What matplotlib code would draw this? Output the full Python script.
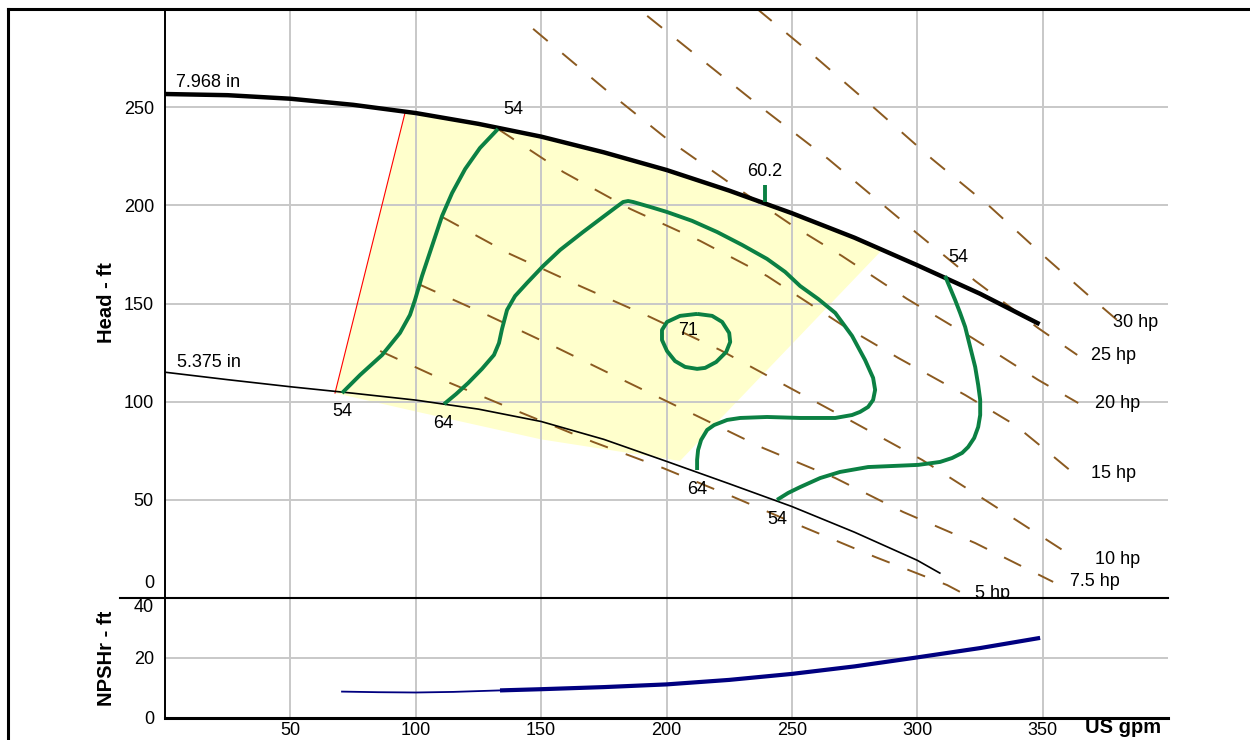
import matplotlib
matplotlib.use("Agg")
import matplotlib.pyplot as plt
from matplotlib.lines import Line2D

plt.rcParams['font.family'] = ['Liberation Sans', 'DejaVu Sans']
plt.rcParams['lines.scale_dashes'] = False

# impeller curves (US gpm, ft)
q_max = [0, 25, 50, 75, 100, 125, 150, 175, 200, 225, 250, 275, 300, 325, 348]
h_max = [256.7, 256.1, 254.3, 251.2, 247, 241.5, 235, 227, 218, 207.5, 196, 183.5, 169.5, 155, 140]
q_min = [0, 25, 50, 75, 100, 125, 150, 175, 200, 225, 250, 275, 300, 309]
h_min = [115, 111.2, 107.6, 104.3, 100.8, 96.2, 89.9, 80.8, 69.6, 58.2, 46.6, 33.5, 19.2, 12.7]

# preferred operating region
q_region = [67.8, 95.7, 100, 125, 150, 175, 200, 225, 250, 275, 286, 205.4, 150, 100]
h_region = [104.4, 247, 247, 241.5, 235, 227, 218, 207.5, 196, 183.5, 177.3, 69.8, 80.8, 95]
q_red = [67.8, 95.7]
h_red = [104.4, 247]

# efficiency contours (%)
eff_q = [
    [70.6, 77.8, 86.6, 93.7, 97.7, 99.7, 102.5, 106.5, 110.5, 114.5, 119.7, 125.6, 132.8],
    [111.3, 116.1, 120.9, 126.4, 131.2, 133.2, 134.4, 136.4, 139.6, 144.4, 150.8, 157.6,
     166.7, 174.7, 179.5, 182.7, 184.7, 186.7, 193.5, 200.2, 210.2, 220.2, 230.2, 240.1,
     247.3, 253.3, 260.5, 267.3, 274.0, 279.2, 282.4, 283.2, 282.4, 280.4, 277.2, 274.0,
     267.3, 253.3, 240.1, 229.4, 224.2, 219.0, 216.2, 213.8, 212.6, 212.2, 212.2],
    [212.2, 218.2, 222.2, 225.0, 225.4, 223.8, 219.8, 215.4, 212.2, 207.4, 203.4, 200.2,
     198.2, 198.2, 200.2, 205.4, 212.2],
    [244.1, 248.5, 253.3, 261.3, 269.2, 280.4, 300.4, 309.1, 313.9, 317.9, 320.3, 322.7,
     324.3, 325.1, 325.1, 324.3, 323.1, 321.1, 319.1, 317.1, 315.1, 313.1, 311.1],
]
eff_h = [
    [104.4, 113.6, 123.8, 135.0, 144.2, 151.8, 164.0, 179.3, 194.6, 206.3, 218.5, 229.2, 238.9],
    [98.8, 103.9, 109.5, 116.7, 123.8, 129.9, 137.0, 146.7, 153.8, 160.5, 169.1, 177.3,
     186.4, 194.1, 198.7, 201.7, 202.2, 201.7, 199.2, 196.6, 192.1, 186.4, 179.8, 172.7,
     166.1, 158.9, 152.3, 145.2, 133.5, 121.2, 112.1, 106.0, 100.9, 97.3, 94.8, 93.2,
     91.7, 91.7, 92.2, 91.7, 90.7, 88.1, 85.6, 80.5, 75.4, 70.3, 65.2],
    [144.7, 143.7, 140.6, 135.0, 130.4, 125.3, 120.2, 117.2, 116.7, 117.7, 120.7, 125.8,
     131.4, 136.5, 140.6, 143.7, 144.7],
    [50, 53.5, 56.5, 61.1, 64.2, 66.7, 67.8, 69.3, 71.3, 73.9, 76.9, 81.5,
     87.1, 93.2, 100.9, 108.5, 117.7, 127.9, 138.1, 145.2, 151.8, 157.9, 164.0],
]
eff_labels = ['54', '54', '64', '64', '71', '60.2', '54', '54']

# power lines (hp)
hp_labels = ['5 hp', '7.5 hp', '10 hp', '15 hp', '20 hp', '25 hp', '30 hp']
hp_q = [
    [85.8, 113.7, 142.4, 170.7, 198.6, 226.6, 254.5, 283.2, 311.9, 317.1],
    [100.9, 128.4, 156.4, 184.3, 211.4, 238.5, 267.3, 294.4, 323.1, 354.2],
    [110.5, 137.6, 165.5, 193.5, 221.4, 248.5, 275.2, 302, 328.3, 359.8],
    [132.8, 158.8, 185.5, 213.4, 240.1, 270, 292.4, 319.1, 339, 350.2, 362.2],
    [146.8, 176.3, 200.2, 224.6, 250.5, 270, 296, 321.9, 348.2, 364.2],
    [192.3, 216.2, 240.1, 264.5, 299.2, 323.1, 348.2, 363.8],
    [236.1, 259.3, 282.4, 305.9, 329.1, 351.8, 369, 379.7],
]
hp_h = [
    [125.8, 109.5, 94.2, 79.5, 66.2, 51.5, 36.2, 20.9, 6.6, 3.1],
    [160, 144.2, 127.4, 110, 93.2, 76.4, 61.1, 43.8, 28, 8.2],
    [194.1, 175.2, 158.9, 143.1, 126.3, 107.5, 89.1, 70.3, 48.9, 22.9],
    [238.9, 217, 198.2, 181.9, 164, 139.1, 122.3, 103.4, 88.1, 76.4, 63.7],
    [289.9, 258.3, 233.8, 211.9, 189.5, 174.2, 152.3, 132.5, 111.1, 99.3],
    [296.5, 272, 247.6, 223.6, 186.5, 161.5, 137.5, 123.8],
    [300.1, 275.6, 250.1, 223.6, 199.2, 172.7, 153.3, 141.6],
]

# NPSHr (ft)
q_npsh_low = [70.6, 85, 100, 115, 133.6]
n_npsh_low = [8.8, 8.6, 8.5, 8.7, 9.2]
q_npsh = [133.6, 150, 175, 200, 225, 250, 275, 300, 325, 349]
n_npsh = [9.2, 9.6, 10.3, 11.2, 12.7, 14.7, 17.2, 20.2, 23.3, 26.7]

fig = plt.figure(figsize=(12.5, 7.4), dpi=100)
ax1 = fig.add_axes([165 / 1250, 1 - 598 / 740, 1003 / 1250, 589 / 740])
ax2 = fig.add_axes([165 / 1250, 1 - 718 / 740, 1003 / 1250, 120 / 740])

grid_c = '#c8c8c8'
for ax in (ax1, ax2):
    ax.set_xlim(0, 400)
    for s in ('top', 'right', 'bottom'):
        ax.spines[s].set_visible(False)
    ax.spines['left'].set_linewidth(1.4)
    ax.tick_params(length=0, labelsize=13, colors='black')
    for x in range(50, 400, 50):
        ax.axvline(x, color=grid_c, lw=1.4, zorder=0.5)

ax1.set_ylim(0, 300)
ax1.set_xticks([])
ax1.set_yticks([50, 100, 150, 200, 250])
ax1.tick_params(axis='y', pad=8)
for y in range(50, 300, 50):
    ax1.axhline(y, color=grid_c, lw=1.4, zorder=0.5)
ax1.text(-4.4, 7.6, '0', ha='right', va='center', fontsize=13)

ax2.set_ylim(0, 40)
ax2.set_xticks(range(50, 400, 50))
ax2.set_yticks([0, 20])
ax2.tick_params(axis='y', pad=8)
ax2.tick_params(axis='x', pad=3)
ax2.axhline(20, color=grid_c, lw=1.4, zorder=0.5)
ax2.text(-4.4, 37, '40', ha='right', va='center', fontsize=13)

# head panel
ax1.fill(q_region, h_region, color='#ffffcc', lw=0, zorder=0.4)
ax1.plot(q_red, h_red, color='red', lw=0.8, zorder=2)

brown = '#8b5a20'
for q, h in zip(hp_q, hp_h):
    ax1.plot(q, h, color=brown, lw=1.4, dashes=(13.7, 13.7), zorder=2)

ax1.plot(q_max, h_max, color='black', lw=3.2, zorder=3)
ax1.plot(q_min, h_min, color='black', lw=1.2, zorder=3)

green = '#0b8043'
for q, h in zip(eff_q, eff_h):
    ax1.plot(q, h, color=green, lw=2.8, solid_capstyle='butt', solid_joinstyle='round', zorder=4)
ax1.plot([239.3, 239.3], [201.7, 210.4], color=green, lw=2.8, solid_capstyle='butt', zorder=4)

eff_pos = [(138.8, 248.6), (70.6, 94.8), (110.9, 89.1), (212.2, 55.5),
           (208.6, 136.0), (239.3, 217.0), (316.3, 173.2), (244.1, 40.2)]
for lab, (x, y) in zip(eff_labels, eff_pos):
    ax1.text(x, y, lab, ha='center', va='center', fontsize=13, zorder=5)

hp_pos = [(329.9, 2.4), (371, 8.2), (379.7, 19.4), (378.1, 63.2),
          (379.7, 99.3), (378.1, 123.3), (386.9, 140.1)]
for lab, (x, y) in zip(hp_labels, hp_pos):
    ax1.text(x, y, lab, ha='center', va='center', fontsize=13, zorder=5, clip_on=True)

ax1.text(4.4, 262.4, '7.968 in', ha='left', va='center', fontsize=13)
ax1.text(4.8, 120.2, '5.375 in', ha='left', va='center', fontsize=13)

# NPSH panel
ax2.plot(q_npsh_low, n_npsh_low, color='#000080', lw=1.3, zorder=3)
ax2.plot(q_npsh, n_npsh, color='#000080', lw=3.0, solid_capstyle='butt', zorder=3)

ax2.text(382, -3.3, 'US gpm', ha='center', va='center', fontsize=14.5,
         fontweight='bold', clip_on=False)

fig.text(107 / 1250, 1 - 303 / 740, 'Head - ft', rotation=90, ha='center', va='center',
         fontsize=14.5, fontweight='bold')
fig.text(106 / 1250, 1 - 658 / 740, 'NPSHr - ft', rotation=90, ha='center', va='center',
         fontsize=14.5, fontweight='bold')

# separator and bottom axis lines, outer frame
fig.add_artist(Line2D([120 / 1250, 1168 / 1250], [1 - 598 / 740] * 2, color='black', lw=1.5))
fig.add_artist(Line2D([165 / 1250, 1168 / 1250], [1 - 718 / 740] * 2, color='black', lw=2.2))
fig.add_artist(Line2D([8 / 1250, 1.0], [1 - 9 / 740] * 2, color='black', lw=2.2))
fig.add_artist(Line2D([8 / 1250] * 2, [0, 1 - 9 / 740], color='black', lw=2.2))

fig.savefig('out.png', dpi=100)
